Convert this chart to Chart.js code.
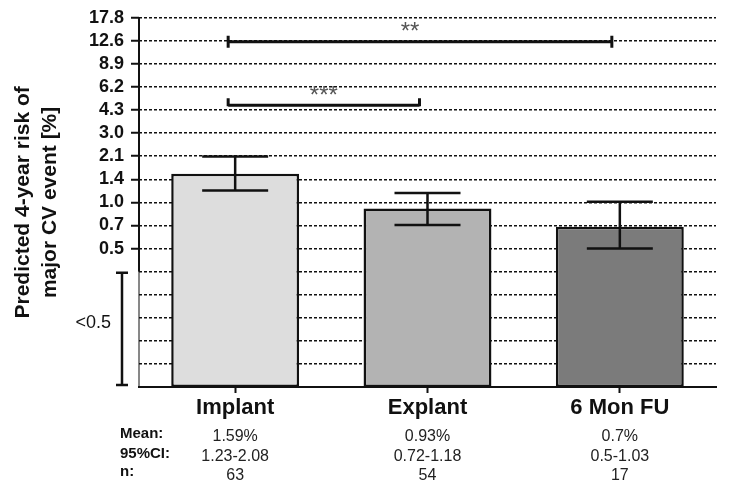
<!DOCTYPE html>
<html>
<head>
<meta charset="utf-8">
<script src="https://cdn.jsdelivr.net/npm/chart.js@4/dist/chart.umd.min.js"></script>
<style>
  html, body { margin: 0; padding: 0; background: #fff; }
  #wrap { width: 729px; height: 495px; position: relative; }
</style>
</head>
<body>
<div id="wrap"><canvas id="c" width="729" height="495"></canvas></div>
<script>
// ---- data ----
const categories = ['Implant', 'Explant', '6 Mon FU'];
const meanValues = [1.59, 0.93, 0.7];
const ciLower = [1.23, 0.72, 0.5];
const ciUpper = [2.08, 1.18, 1.03];
const nValues = [63, 54, 17];
const meanText = ['1.59%', '0.93%', '0.7%'];
const ciText = ['1.23-2.08', '0.72-1.18', '0.5-1.03'];
const barColors = ['#dddddd', '#b3b3b3', '#7b7b7b'];
const tickLabels = ['17.8', '12.6', '8.9', '6.2', '4.3', '3.0', '2.1', '1.4', '1.0', '0.7', '0.5'];
const belowCount = 6;            // unlabeled grid lines under 0.5 ("<0.5" zone)
const sigFrom = [0, 0];
const sigTo = [1, 2];
const sigLabel = ['***', '**'];
const sigLevel = [4.6, 12.3];
const rowLabels = ['Mean:', '95%CI:', 'n:'];

// ---- axis construction (log scale with evenly spaced grid) ----
const topVal = parseFloat(tickLabels[0]);
const lowVal = parseFloat(tickLabels[tickLabels.length - 1]);
const ratio = Math.pow(topVal / lowVal, 1 / (tickLabels.length - 1));
const yMin = lowVal / Math.pow(ratio, belowCount);
const nGrid = tickLabels.length + belowCount;
const gridVals = [];
for (let k = 0; k < nGrid; k++) gridVals.push(yMin * Math.pow(ratio, k));
gridVals[nGrid - 1] = topVal;
const labelFor = (i) => i >= belowCount ? tickLabels[nGrid - 1 - i] : '';

const FONT = "'Liberation Sans', Arial, Helvetica, sans-serif";

const overlay = {
  id: 'overlay',
  afterDatasetsDraw(chart) {
    const ctx = chart.ctx;
    const xs = chart.scales.x, ys = chart.scales.y;
    const area = chart.chartArea;
    ctx.save();
    ctx.strokeStyle = '#111';
    ctx.fillStyle = '#111';
    ctx.setLineDash([]);

    // error bars
    ctx.lineWidth = 2.5;
    const capHalf = 33;
    categories.forEach((c, i) => {
      const x = xs.getPixelForValue(i);
      const yl = ys.getPixelForValue(ciLower[i]);
      const yu = ys.getPixelForValue(ciUpper[i]);
      ctx.beginPath();
      ctx.moveTo(x, yl); ctx.lineTo(x, yu);
      ctx.moveTo(x - capHalf, yu); ctx.lineTo(x + capHalf, yu);
      ctx.moveTo(x - capHalf, yl); ctx.lineTo(x + capHalf, yl);
      ctx.stroke();
    });

    // significance brackets
    sigLabel.forEach((lab, k) => {
      const x1 = xs.getPixelForValue(sigFrom[k]) - 7;
      const x2 = xs.getPixelForValue(sigTo[k]) - 8;
      const y = ys.getPixelForValue(sigLevel[k]);
      ctx.lineWidth = 3;
      ctx.strokeStyle = '#111';
      ctx.beginPath();
      ctx.moveTo(x1, y); ctx.lineTo(x2, y);
      if (lab === '***') {
        ctx.moveTo(x1, y + 1); ctx.lineTo(x1, y - 7);
        ctx.moveTo(x2, y + 1); ctx.lineTo(x2, y - 7);
      } else {
        ctx.moveTo(x1, y + 6); ctx.lineTo(x1, y - 6);
        ctx.moveTo(x2, y + 6); ctx.lineTo(x2, y - 6);
      }
      ctx.stroke();
      ctx.fillStyle = '#555';
      ctx.font = '24px ' + FONT;
      ctx.textAlign = 'center';
      ctx.textBaseline = 'middle';
      const mid = (x1 + x2) / 2 - (lab === '**' ? 10 : 0);
      ctx.fillText(lab, mid, y - 9);
    });

    // y axis line (solid in labeled zone, thin below)
    const yBreak = ys.getPixelForValue(gridVals[belowCount - 1]);
    ctx.strokeStyle = '#111';
    ctx.lineWidth = 2;
    ctx.beginPath();
    ctx.moveTo(area.left, area.top); ctx.lineTo(area.left, yBreak);
    ctx.stroke();
    ctx.lineWidth = 1;
    ctx.beginPath();
    ctx.moveTo(area.left, yBreak); ctx.lineTo(area.left, area.bottom);
    ctx.stroke();

    // "<0.5" bracket
    const bx = area.left - 17;
    const bTop = yBreak + 1, bBot = area.bottom - 2;
    ctx.lineWidth = 2.5;
    ctx.beginPath();
    ctx.moveTo(bx, bTop); ctx.lineTo(bx, bBot);
    ctx.moveTo(bx - 6, bTop); ctx.lineTo(bx + 6, bTop);
    ctx.moveTo(bx - 6, bBot); ctx.lineTo(bx + 6, bBot);
    ctx.stroke();
    ctx.fillStyle = '#111';
    ctx.font = '18px ' + FONT;
    ctx.textAlign = 'right';
    ctx.textBaseline = 'middle';
    ctx.fillText('<' + tickLabels[tickLabels.length - 1], 111, (bTop + bBot) / 2 - 6);

    // table under the axis
    const labelBase = [438, 458, 476];
    const valueBase = [441, 461, 480];
    ctx.textBaseline = 'alphabetic';
    ctx.textAlign = 'left';
    ctx.font = 'bold 15px ' + FONT;
    rowLabels.forEach((r, j) => ctx.fillText(r, 120, labelBase[j]));
    ctx.font = '16px ' + FONT;
    ctx.textAlign = 'center';
    ctx.fillStyle = '#222';
    categories.forEach((c, i) => {
      const x = xs.getPixelForValue(i);
      ctx.fillText(meanText[i], x, valueBase[0]);
      ctx.fillText(ciText[i], x, valueBase[1]);
      ctx.fillText(String(nValues[i]), x, valueBase[2]);
    });
    ctx.restore();
  }
};

new Chart(document.getElementById('c'), {
  type: 'bar',
  data: {
    labels: categories,
    datasets: [{
      data: meanValues,
      backgroundColor: barColors,
      borderColor: '#111',
      borderWidth: 2.5,
      borderSkipped: false,
      barPercentage: 0.665,
      categoryPercentage: 1.0
    }]
  },
  options: {
    responsive: false,
    animation: false,
    devicePixelRatio: 1,
    layout: { padding: { left: 0, right: 13, top: 16, bottom: 0 } },
    plugins: { legend: { display: false }, tooltip: { enabled: false } },
    scales: {
      x: {
        type: 'category',
        afterFit: (s) => { s.height = 108; },
        grid: { display: true, drawOnChartArea: false, drawTicks: true, offset: false,
                tickLength: 6, tickWidth: 2, tickColor: '#111', color: '#111' },
        border: { display: true, color: '#111', width: 2 },
        ticks: { color: '#111', padding: 2, font: { family: FONT, size: 22, weight: 'bold' } }
      },
      y: {
        type: 'logarithmic',
        min: yMin,
        max: topVal,
        afterFit: (s) => { s.width = 139; },
        afterBuildTicks: (s) => { s.ticks = gridVals.map(v => ({ value: v })); },
        grid: {
          drawOnChartArea: true,
          drawTicks: true,
          tickLength: 8,
          lineWidth: 1.5,
          tickWidth: 2,
          color: (c) => c.index === 0 ? 'rgba(0,0,0,0)' : '#111',
          tickColor: (c) => c.index >= belowCount ? '#111' : 'rgba(0,0,0,0)',
          tickBorderDash: [],
          borderDash: [3, 2]
        },
        border: { display: false, dash: [3, 2] },
        ticks: {
          autoSkip: false,
          padding: 7,
          color: '#111',
          font: { family: FONT, size: 18, weight: 'bold' },
          callback: (v, i) => labelFor(i)
        },
        title: {
          display: true,
          text: ['Predicted 4-year risk of', 'major CV event [%]'],
          color: '#111',
          padding: { top: 10, bottom: 0 },
          font: { family: FONT, size: 21, weight: 'bold', lineHeight: 1.29 }
        }
      }
    }
  },
  plugins: [overlay]
});
</script>
</body>
</html>
